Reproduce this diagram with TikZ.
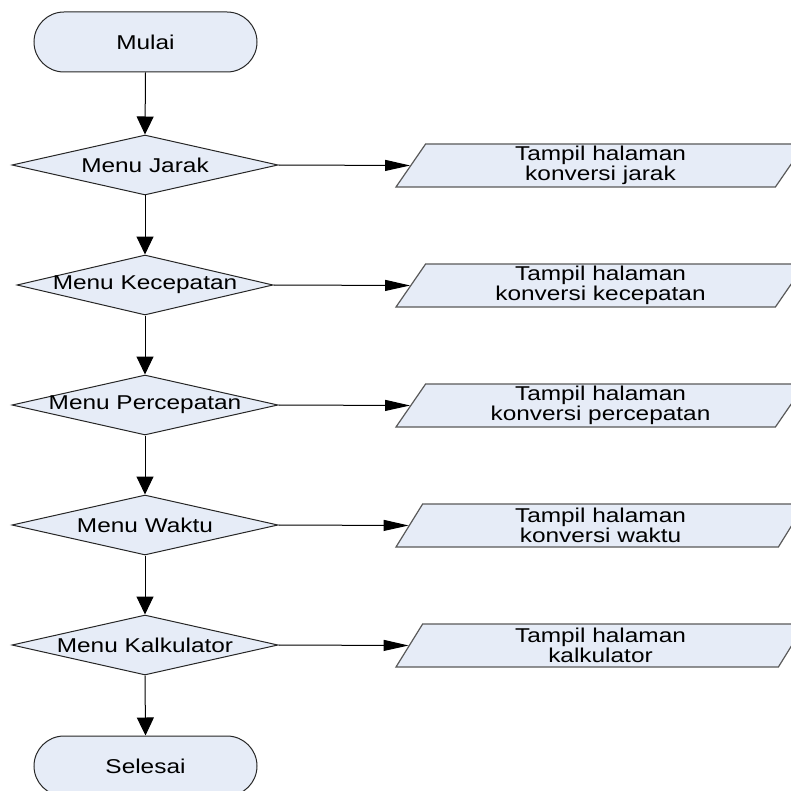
\documentclass[tikz,border=0pt]{standalone}
\usepackage{fontspec}
\newfontfamily\arialw{Liberation Sans}[FakeStretch=1.22]
\usetikzlibrary{shapes.geometric,shapes.misc,arrows.meta}
\definecolor{boxfill}{RGB}{230,236,247}
\begin{document}
\begin{tikzpicture}[x=0.5pt,y=-0.5pt,
  txt/.style={font=\arialw\fontsize{10}{9}\selectfont, text=black},
  term/.style={rounded rectangle, draw=black!85, fill=boxfill, line width=0.5pt,
     minimum width=111.5pt, minimum height=30pt, inner sep=0pt, txt},
  dec/.style={diamond, draw=black!85, fill=boxfill, line width=0.5pt,
     minimum width=133pt, minimum height=30pt, inner sep=0pt},
  io/.style={trapezium, trapezium left angle=53, trapezium right angle=127,
     trapezium stretches body, draw=black!65, fill=boxfill, line width=0.6pt,
     minimum width=204.5pt, minimum height=21.5pt, inner sep=0pt, align=center, txt},
  varrow/.style={draw=black, line width=0.5pt, -{Triangle[length=9pt,width=8.5pt]}},
  harrow/.style={draw=black, line width=0.5pt, -{Triangle[length=12.5pt,width=5.5pt]}}
]
\useasboundingbox (0,0) rectangle (791,791);
\clip (0,0) rectangle (791,791);

\node[term] (start) at (145.5,42) {Mulai};
\node[dec, label={[txt]center:Menu Jarak}] (d1) at (145,165) {};
\node[dec, minimum width=128pt, label={[txt]center:Menu Kecepatan}] (d2) at (145,285) {};
\node[dec, label={[txt]center:Menu Percepatan}] (d3) at (145,405) {};
\node[dec, label={[txt]center:Menu Waktu}] (d4) at (145,525) {};
\node[dec, label={[txt]center:Menu Kalkulator}] (d5) at (145,645) {};
\node[term] (end) at (145.5,766) {Selesai};

\node[io] (p1) at (600.5,165.5) {Tampil halaman\\konversi jarak};
\node[io] (p2) at (600.5,285.5) {Tampil halaman\\konversi kecepatan};
\node[io] (p3) at (600.5,405.5) {Tampil halaman\\konversi percepatan};
\node[io] (p4) at (600.5,525.5) {Tampil halaman\\konversi waktu};
\node[io] (p5) at (600.5,645.5) {Tampil halaman\\kalkulator};

\draw[varrow] (start.south) -- (d1.north);
\draw[varrow] (d1.south) -- (d2.north);
\draw[varrow] (d2.south) -- (d3.north);
\draw[varrow] (d3.south) -- (d4.north);
\draw[varrow] (d4.south) -- (d5.north);
\draw[varrow] (d5.south) -- (end.north);

\draw[harrow] (d1.east) -- (p1.west);
\draw[harrow] (d2.east) -- (p2.west);
\draw[harrow] (d3.east) -- (p3.west);
\draw[harrow] (d4.east) -- (p4.west);
\draw[harrow] (d5.east) -- (p5.west);
\end{tikzpicture}
\end{document}
